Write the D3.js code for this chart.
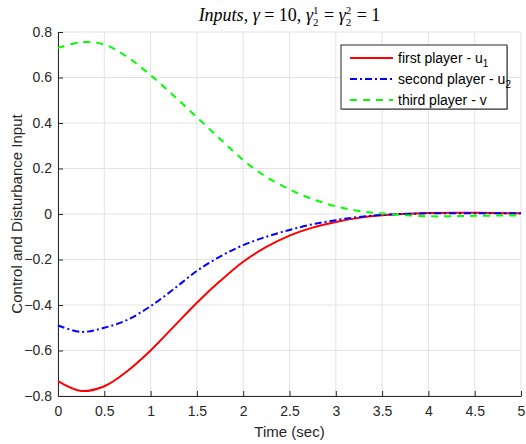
<!DOCTYPE html>
<html>
<head>
<meta charset="utf-8">
<script src="https://cdn.jsdelivr.net/npm/d3@7"></script>
<style>
  body { margin: 0; background: #fff; }
  svg { display: block; font-family: "Liberation Sans", Arial, sans-serif; }
  .grid line { stroke: #e3e3e3; stroke-width: 1; }
  .axis path, .axis line { stroke: #262626; }
  .axis text { fill: #262626; font-size: 14px; }
</style>
</head>
<body>
<div id="chart"></div>
<script>
// Time samples (sec) and the three input signals
const time = [0, 0.25, 0.5, 0.75, 1, 1.25, 1.5, 1.75, 2, 2.25, 2.5, 2.75, 3, 3.25, 3.5, 4, 4.5, 5];
const u1 = [-0.735, -0.778, -0.757, -0.69, -0.6, -0.495, -0.39, -0.295, -0.21, -0.145, -0.095, -0.06, -0.035, -0.017, -0.006, 0.004, 0.005, 0.003];
const u2 = [-0.49, -0.518, -0.5, -0.465, -0.405, -0.33, -0.25, -0.187, -0.137, -0.1, -0.07, -0.045, -0.027, -0.013, -0.004, 0.003, 0.003, 0.003];
const v = [0.73, 0.755, 0.745, 0.69, 0.61, 0.52, 0.425, 0.33, 0.237, 0.163, 0.108, 0.065, 0.034, 0.013, 0.002, -0.01, -0.008, -0.006];

const xTicks = [0, 0.5, 1, 1.5, 2, 2.5, 3, 3.5, 4, 4.5, 5];
const yTicks = [-0.8, -0.6, -0.4, -0.2, 0, 0.2, 0.4, 0.6, 0.8];

const seriesNames = ['first player - u', 'second player - u', 'third player - v'];
const seriesSubs = ['1', '2', ''];

const width = 526, height = 444;
const margin = { left: 58, right: 5, top: 32, bottom: 48 };

const svg = d3.select('#chart').append('svg')
    .attr('width', width)
    .attr('height', height);

const x = d3.scaleLinear().domain([0, 5]).range([margin.left, width - margin.right]);
const y = d3.scaleLinear().domain([-0.8, 0.8]).range([height - margin.bottom, margin.top]);

// Grid lines
const grid = svg.append('g').attr('class', 'grid');
grid.selectAll('.gx').data(xTicks).enter().append('line')
    .attr('x1', d => x(d)).attr('x2', d => x(d))
    .attr('y1', y(-0.8)).attr('y2', y(0.8));
grid.selectAll('.gy').data(yTicks).enter().append('line')
    .attr('x1', x(0)).attr('x2', x(5))
    .attr('y1', d => y(d)).attr('y2', d => y(d));

// Axes (ticks pointing inward, like MATLAB)
const fmt = d => d3.format('')(d);
svg.append('g')
    .attr('class', 'axis')
    .attr('transform', `translate(0,${y(-0.8)})`)
    .call(d3.axisBottom(x).tickValues(xTicks).tickFormat(fmt).tickSizeInner(-5).tickSizeOuter(0).tickPadding(10));

svg.append('g')
    .attr('class', 'axis')
    .attr('transform', `translate(${x(0)},0)`)
    .call(d3.axisLeft(y).tickValues(yTicks).tickFormat(fmt).tickSizeInner(-5).tickSizeOuter(0).tickPadding(6));

// Axis labels
svg.append('text')
    .attr('x', x(2.5)).attr('y', 437)
    .attr('text-anchor', 'middle')
    .style('font-size', '15px').attr('fill', '#262626')
    .text('Time (sec)');

svg.append('text')
    .attr('transform', `translate(22,${y(0)}) rotate(-90)`)
    .attr('text-anchor', 'middle')
    .style('font-size', '15px').attr('fill', '#262626')
    .text('Control and Disturbance Input');

// Curves
const series = [
    { values: u1, color: '#ff0000', dash: null },
    { values: u2, color: '#0000ff', dash: '7,3,2,3' },
    { values: v, color: '#00ff00', dash: '7,6' }
];

const line = d3.line()
    .x((d, i) => x(time[i]))
    .y(d => y(d))
    .curve(d3.curveCatmullRom.alpha(0.5));

svg.append('g').selectAll('path')
    .data(series)
    .enter()
    .append('path')
    .attr('d', d => line(d.values))
    .attr('fill', 'none')
    .attr('stroke', d => d.color)
    .attr('stroke-width', 2)
    .attr('stroke-dasharray', d => d.dash);

// Legend
const legend = svg.append('g').attr('transform', 'translate(341,45)');
legend.append('rect')
    .attr('x', 1).attr('y', 1)
    .attr('width', 166).attr('height', 64)
    .attr('fill', '#a0a0a0');
legend.append('rect')
    .attr('width', 166).attr('height', 64)
    .attr('fill', '#fff')
    .attr('stroke', '#262626');

series.forEach((s, i) => {
    const ly = 13 + i * 21;
    legend.append('line')
        .attr('x1', 9).attr('x2', 52)
        .attr('y1', ly).attr('y2', ly)
        .attr('stroke', s.color)
        .attr('stroke-width', 2)
        .attr('stroke-dasharray', s.dash);
    const t = legend.append('text')
        .attr('x', 57).attr('y', ly + 5)
        .style('font-size', '14px').attr('fill', '#000');
    t.append('tspan').text(seriesNames[i]);
    if (seriesSubs[i]) {
        t.append('tspan').attr('dy', 4).style('font-size', '10px').text(seriesSubs[i]);
    }
});

// Title: Inputs, γ = 10, γ₂¹ = γ₂² = 1 (LaTeX-like)
const title = svg.append('g');
const serif = '"Liberation Serif", "DejaVu Serif", serif';
let cx = 0;
function piece(str, opts = {}) {
    const t = title.append('text')
        .attr('x', cx).attr('y', opts.dy || 0)
        .style('font-family', serif)
        .style('font-size', (opts.size || 18) + 'px')
        .style('font-style', opts.italic ? 'italic' : 'normal')
        .style('white-space', 'pre')
        .text(str);
    const w = t.node().getComputedTextLength();
    if (!opts.noAdvance) cx += w;
    return w;
}
function stacked(sup, sub) {
    const w1 = piece(sup, { size: 11, dy: -7, noAdvance: true });
    const w2 = piece(sub, { size: 11, dy: 5, noAdvance: true });
    cx += Math.max(w1, w2) + 1;
}
piece('Inputs', { italic: true });
piece(',\u00a0');
piece('γ', { italic: true });
piece('\u00a0=\u00a010,\u00a0');
piece('γ', { italic: true });
stacked('1', '2');
piece('\u00a0=\u00a0');
piece('γ', { italic: true });
stacked('2', '2');
piece('\u00a0=\u00a01');
title.attr('transform', `translate(${x(2.5) - cx / 2},21)`);
</script>
</body>
</html>
